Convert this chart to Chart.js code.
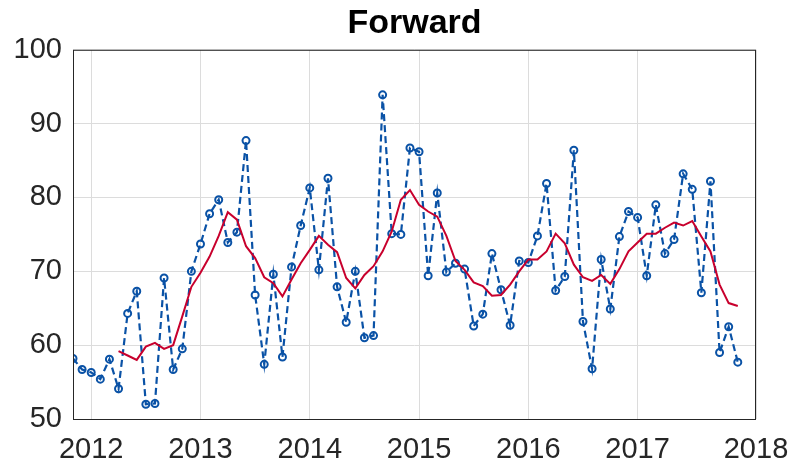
<!DOCTYPE html>
<html>
<head>
<meta charset="utf-8">
<script src="https://cdn.jsdelivr.net/npm/chart.js@4.4.1/dist/chart.umd.min.js"></script>
<style>
  html, body { margin: 0; padding: 0; background: #fff; }
  #wrap { width: 792px; height: 468px; }
</style>
</head>
<body>
<div id="wrap"><canvas id="chart" width="792" height="468"></canvas></div>
<script>
// months counted from Nov 2011 (0) to Dec 2017 (73)
const forward = [
  58.2, 56.7, 56.3, 55.4, 58.1, 54.1, 64.3, 67.3, 52.0, 52.1, 69.1, 56.7, 59.5, 70.0,
  73.7, 77.8, 79.7, 73.9, 75.3, 87.7, 66.8, 57.4, 69.6, 58.4, 70.6, 76.2,
  81.3, 70.2, 82.6, 67.9, 63.1, 70.0, 61.0, 61.3, 93.9, 75.1, 75.0, 86.7,
  86.2, 69.4, 80.6, 69.9, 71.1, 70.3, 62.6, 64.2, 72.4, 67.5, 62.7, 71.4,
  71.2, 74.8, 81.9, 67.4, 69.3, 86.4, 63.2, 56.8, 71.6, 64.9, 74.7, 78.1,
  77.3, 69.4, 79.0, 72.4, 74.3, 83.2, 81.1, 67.1, 82.2, 59.0, 62.5, 57.7
];
const smooth = [
  null, null, null, null, null, 59.2, 58.6, 58.0, 59.8, 60.3, 59.5, 60.0, 63.9, 67.9,
  69.8, 72.0, 74.8, 78.0, 77.0, 73.4, 71.8, 69.2, 68.4, 66.6, 68.9, 71.1,
  72.9, 74.8, 73.6, 72.6, 69.1, 67.7, 69.5, 70.7, 72.7, 75.4, 79.7, 81.0,
  79.0, 78.1, 77.4, 74.8, 71.4, 70.2, 68.5, 68.0, 66.7, 66.8, 68.2, 70.0,
  71.6, 71.6, 72.7, 75.1, 73.8, 70.9, 69.2, 68.7, 69.5, 68.3, 70.3, 72.7,
  73.9, 75.1, 75.1, 75.9, 76.6, 76.2, 76.8, 74.7, 72.7, 68.2, 65.7, 65.3
];
const xTickPos = [2, 14, 26, 38, 50, 62, 75];
const xTickLabels = ['2012', '2013', '2014', '2015', '2016', '2017', '2018'];
const yTicks = [50, 60, 70, 80, 90, 100];

const toXY = arr => arr.map((v, i) => ({ x: i, y: v }));
const axisColor = '#262626';
const gridColor = '#dcdcdc';
const blue = '#0a52a6';

const boxPlugin = {
  id: 'box',
  afterDraw(chart) {
    const { ctx, chartArea: a } = chart;
    ctx.save();
    ctx.strokeStyle = axisColor;
    ctx.lineWidth = 1;
    ctx.strokeRect(a.left + 0.5, a.top + 0.5, a.right - a.left - 1, a.bottom - a.top);
    ctx.restore();
  }
};

new Chart(document.getElementById('chart'), {
  type: 'line',
  data: {
    datasets: [
      {
        label: 'Smoothed',
        data: toXY(smooth),
        borderColor: '#c8002d',
        borderWidth: 2,
        pointRadius: 0,
        tension: 0,
        spanGaps: false
      },
      {
        label: 'Forward',
        data: toXY(forward),
        borderColor: blue,
        borderWidth: 2.2,
        borderDash: [7, 4],
        pointRadius: 3.5,
        pointBorderWidth: 2,
        pointBorderColor: blue,
        pointBackgroundColor: 'rgba(0,0,0,0)',
        tension: 0
      }
    ]
  },
  options: {
    responsive: false,
    animation: false,
    layout: { padding: { left: 0, right: 36, top: 0, bottom: 0 } },
    scales: {
      x: {
        type: 'linear',
        min: 0,
        max: 75,
        afterBuildTicks: s => { s.ticks = xTickPos.map(v => ({ value: v })); },
        afterFit: s => { s.height = 49; s.paddingLeft = 0; s.paddingRight = 0; },
        border: { display: false },
        grid: { color: gridColor, drawTicks: false },
        ticks: {
          color: axisColor,
          padding: 14,
          font: { family: 'Liberation Sans, Arial, sans-serif', size: 29 },
          maxRotation: 0,
          autoSkip: false,
          callback: v => xTickLabels[xTickPos.indexOf(v)]
        }
      },
      y: {
        min: 50,
        max: 100,
        afterBuildTicks: s => { s.ticks = yTicks.map(v => ({ value: v })); },
        afterFit: s => { s.width = 73; },
        border: { display: false },
        grid: { color: gridColor, drawTicks: false },
        ticks: {
          color: axisColor,
          padding: 11,
          font: { family: 'Liberation Sans, Arial, sans-serif', size: 29 }
        }
      }
    },
    plugins: {
      legend: { display: false },
      tooltip: { enabled: false },
      title: {
        display: true,
        text: 'Forward',
        fullSize: false,
        color: '#000',
        font: { family: 'Liberation Sans, Arial, sans-serif', size: 34, weight: 'bold' },
        padding: { top: 3, bottom: 6 }
      }
    }
  },
  plugins: [boxPlugin]
});
</script>
</body>
</html>
